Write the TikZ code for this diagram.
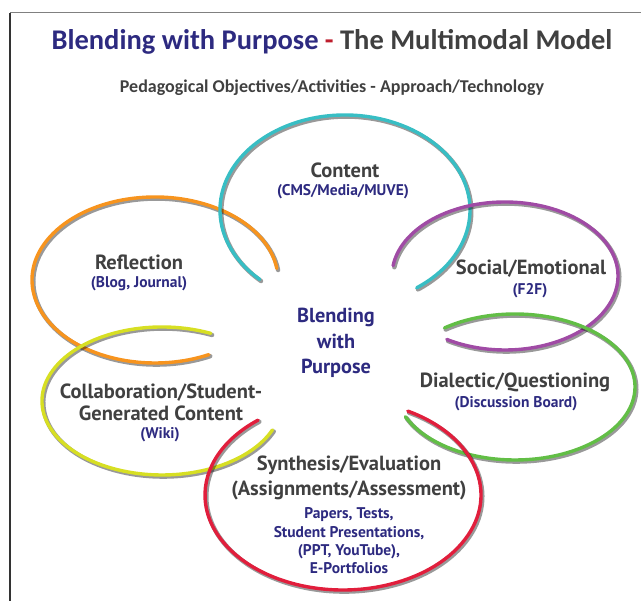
\documentclass[tikz,border=0pt]{standalone}
\usepackage{fontspec}
\setmainfont{Carlito}
\newfontfamily\labfont{PT Sans}
\definecolor{navy}{RGB}{45,42,128}
\definecolor{txtgray}{RGB}{64,64,64}
\definecolor{ringteal}{RGB}{56,190,196}
\definecolor{ringorange}{RGB}{247,148,30}
\definecolor{ringpurple}{RGB}{160,75,165}
\definecolor{ringgreen}{RGB}{98,190,70}
\definecolor{ringyellow}{RGB}{215,223,35}
\definecolor{ringred}{RGB}{225,30,60}
\definecolor{dashred}{RGB}{190,30,45}
\tikzset{
  shadowline/.style={draw=black, opacity=0.4, line width=4.4pt, line cap=round},
  ringline/.style={line width=3.4pt, line cap=round},
  mainlab/.style={font=\labfont\bfseries\fontsize{20.5}{22}\selectfont, text=txtgray, inner sep=0pt, align=center},
  sublab/.style={font=\labfont\bfseries\fontsize{15.5}{18.3}\selectfont, text=navy, inner sep=0pt, align=center},
  centerlab/.style={font=\labfont\bfseries\fontsize{20.3}{25.5}\selectfont, text=navy, inner sep=0pt, align=center},
}
\newcommand\ringarc[7]{%
  \draw[shadowline] ([shift={(1.3,-1.6)}]#2,#3) ++(#6:#4pt and #5pt)
    arc[start angle=#6, end angle=#7, x radius=#4pt, y radius=#5pt];
  \draw[ringline, draw=#1] (#2,#3) ++(#6:#4pt and #5pt)
    arc[start angle=#6, end angle=#7, x radius=#4pt, y radius=#5pt];
}
\begin{document}
\begin{tikzpicture}[x=1pt, y=1pt]
\useasboundingbox (0,0) rectangle (641,601);
% frame
\draw[line width=1.4pt, draw=gray] (10,588.3) -- (641,588.3);
\draw[line width=1.4pt, draw=black!80] (10,588.3) -- (10,0);
% title
\node[font=\bfseries\fontsize{28.5}{30}\selectfont, inner sep=0pt] (title) at (332,559)
  {\textcolor{navy}{Blending with Purpose} \textcolor{dashred}{-} \textcolor{txtgray}{The Multimodal Model}};
\node[font=\bfseries\fontsize{18}{20}\selectfont, text=txtgray, inner sep=0pt] (subtitle) at (332,513)
  {Pedagogical Objectives/Activities - Approach/Technology};
% rings
\ringarc{ringorange}{155}{321}{123}{83}{8}{296}
\ringarc{ringteal}{345}{391}{125}{95}{-55}{227}
\ringarc{ringpurple}{505}{325}{113}{74}{172}{-121}
\ringarc{ringgreen}{515}{214}{120}{73}{126}{-156}
\ringarc{ringyellow}{162}{200}{120}{74}{66}{337}
\ringarc{ringred}{343}{106}{138}{95}{62}{-232}
% labels
\node[mainlab] (content) at (345,431) {Content};
\node[sublab] (contentsub) at (343,409) {(CMS/Media/MUVE)};
\node[mainlab] (reflection) at (139,339) {Reflection};
\node[sublab] (reflectionsub) at (139,317.5) {(Blog, Journal)};
\node[mainlab] (social) at (531,332) {Social/Emotional};
\node[sublab] (socialsub) at (530,310) {(F2F)};
\node[centerlab] (center) at (336,258) {Blending\\with\\Purpose};
\node[mainlab] (dialectic) at (515,219) {Dialectic/Questioning};
\node[sublab] (dialecticsub) at (516,197.5) {(Discussion Board)};
\node[mainlab] (collab) at (161,199) {Collaboration/Student-\\Generated Content};
\node[sublab] (collabsub) at (160,166) {(Wiki)};
\node[mainlab, font=\labfont\bfseries\fontsize{20.5}{25}\selectfont] (synth) at (349,123) {Synthesis/Evaluation\\(Assignments/Assessment)};
\node[sublab] (synthsub) at (349,60)
  {Papers, Tests,\\Student Presentations,\\(PPT, YouTube),\\E-Portfolios};
\end{tikzpicture}
\end{document}
